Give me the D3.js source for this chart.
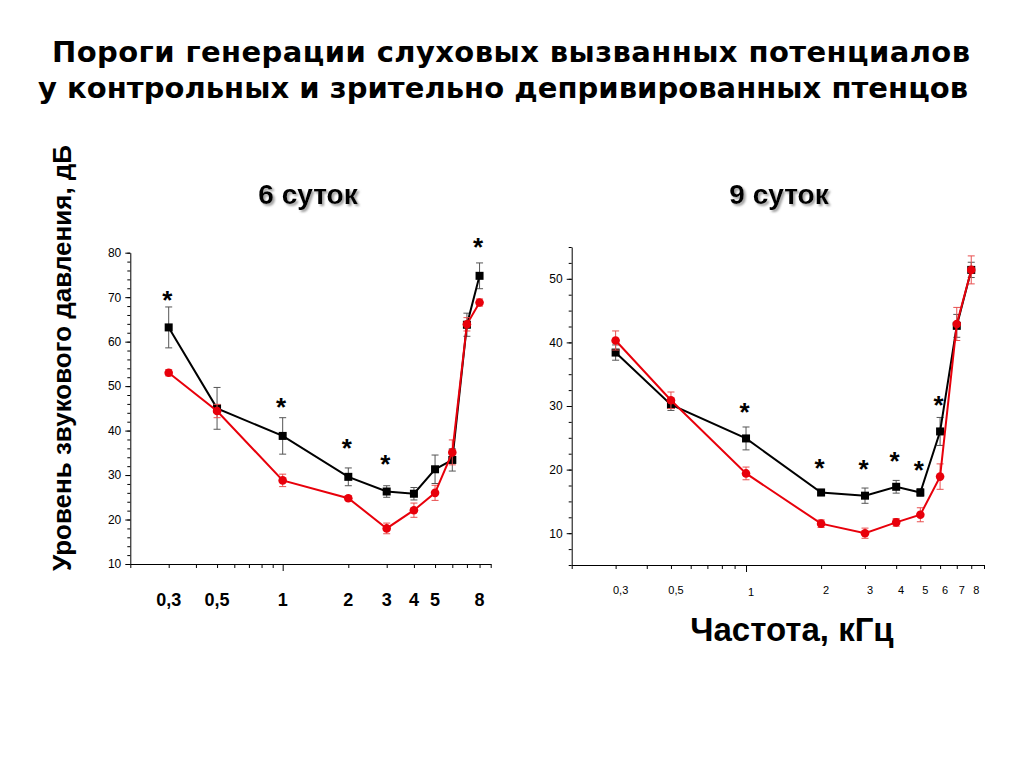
<!DOCTYPE html>
<html>
<head>
<meta charset="utf-8">
<script src="https://d3js.org/d3.v7.min.js"></script>
<style>
  body { margin: 0; background: #fff; }
  svg { font-family: "Liberation Sans", Arial, sans-serif; }
</style>
</head>
<body>
<script>
// Frequencies, kHz
var freqs = [0.3, 0.5, 1, 2, 3, 4, 5, 6, 7, 8];

// 6 days: black squares / red circles, mean and error
var d6Black    = [63.2, 45.0, 38.8, 29.6, 26.3, 25.8, 31.3, 33.4, 63.8, 74.8];
var d6BlackErr = [4.6, 4.7, 4.1, 2.0, 1.3, 1.4, 3.2, 2.5, 2.6, 2.9];
var d6Red      = [53.0, 44.4, 28.8, 24.8, 18.0, 22.1, 26.0, 35.1, 63.9, 68.8];
var d6RedErr   = [0.7, 1.5, 1.4, 0.5, 1.2, 1.6, 1.7, 2.8, 1.5, 0.8];
var d6StarF    = [0.3, 1, 2, 3, 8];
var d6StarY    = [70.5, 46.4, 37.2, 33.6, 82.5];
var d6Labels   = ["0,3", "0,5", "1", "2", "3", "4", "5", "8"];
var d6LabelF   = [0.3, 0.5, 1, 2, 3, 4, 5, 8];

// 9 days
var d9Black    = [38.4, 30.2, 24.9, 16.4, 15.9, 17.3, 16.4, 26.0, 42.6, 51.4];
var d9BlackErr = [1.2, 0.9, 1.8, 0.5, 1.2, 1.0, 0.6, 2.2, 1.8, 1.2];
var d9Red      = [40.3, 30.9, 19.4, 11.5, 10.0, 11.7, 12.9, 18.9, 42.9, 51.4];
var d9RedErr   = [1.5, 1.3, 1.0, 0.6, 0.8, 0.6, 1.1, 2.0, 2.6, 2.2];
var d9StarF    = [1, 2, 3, 4, 5, 6];
var d9StarY    = [29.9, 21.1, 20.85, 22.1, 20.75, 31.0];
var d9Labels   = ["0,3", "0,5", "1", "2", "3", "4", "5", "6", "7", "8"];
var d9LabelF   = [0.3, 0.5, 1, 2, 3, 4, 5, 6, 7, 8];

var logTicks = [0.2,0.3,0.4,0.5,0.6,0.7,0.8,0.9,1,2,3,4,5,6,7,8,9];

var svg = d3.select("body").append("svg")
    .attr("width", 1024).attr("height", 768);

var defs = svg.append("defs");
defs.append("filter").attr("id", "shadow")
    .attr("x", "-10%").attr("y", "-20%").attr("width", "130%").attr("height", "160%")
  .append("feDropShadow")
    .attr("dx", 2).attr("dy", 2).attr("stdDeviation", 1.2)
    .attr("flood-color", "#888").attr("flood-opacity", 0.8);

// ---- titles ----
var title = svg.append("text")
    .attr("text-anchor", "middle")
    .style("font-family", "'Comic Sans MS', 'DejaVu Sans', sans-serif")
    .style("font-weight", "bold")
    .style("font-size", "29px");
title.append("tspan").attr("x", 511).attr("y", 62).attr("textLength", 918)
    .text("Пороги генерации слуховых вызванных потенциалов");
title.append("tspan").attr("x", 503).attr("y", 98).attr("textLength", 930)
    .text("у контрольных и зрительно депривированных птенцов");

svg.append("text")
    .attr("transform", "translate(71,358) rotate(-90)")
    .attr("text-anchor", "middle")
    .style("font-weight", "bold").style("font-size", "26px")
    .text("Уровень звукового давления, дБ");

svg.append("text")
    .attr("x", 792).attr("y", 641).attr("text-anchor", "middle")
    .style("font-weight", "bold").style("font-size", "33px")
    .text("Частота, кГц");

// ---- one panel ----
function panel(o) {
  var x = d3.scaleLog().domain([0.2, 9]).range(o.xr);
  var y = d3.scaleLinear().domain(o.yd).range(o.yr);
  var g = svg.append("g");

  g.append("text")
      .attr("x", o.titleX).attr("y", 204).attr("text-anchor", "middle")
      .attr("filter", "url(#shadow)")
      .style("font-weight", "bold").style("font-size", "28px")
      .text(o.title);

  // y axis: minor then major
  g.append("g").attr("transform", `translate(${o.xr[0]},0)`)
      .call(d3.axisLeft(y).tickValues(d3.range(o.yd[0], o.yd[1] + 0.01, o.yMinor)).tickSize(3).tickFormat(""))
      .call(a => a.select(".domain").remove());
  g.append("g").attr("transform", `translate(${o.xr[0]},0)`)
      .call(d3.axisLeft(y).tickValues(o.yMajor).tickSize(5).tickSizeOuter(0).tickPadding(4))
      .call(a => a.selectAll("text").style("font-size", "12px").style("font-family", "'Liberation Sans', Arial, sans-serif"));

  // x axis
  g.append("g").attr("transform", `translate(0,${o.yr[0]})`)
      .call(d3.axisBottom(x).tickValues(logTicks).tickSize(4).tickSizeOuter(0).tickFormat(""))
      .call(a => a.selectAll(".tick line").attr("y2", d => d === 1 ? 7 : 4));

  // x labels
  g.append("g").selectAll("text")
      .data(o.labelF)
      .join("text")
      .attr("x", (d, i) => x(d) + o.labelDx)
      .attr("y", (d, i) => o.labelY + (o.labelDrop && d === 1 ? 2 : 0))
      .attr("text-anchor", "middle")
      .style("font-weight", o.labelBold ? "bold" : "normal")
      .style("font-size", o.labelSize)
      .text((d, i) => o.labels[i]);

  function series(vals, errs, color, errColor, shape) {
    var pts = freqs.map((f, i) => ({f: f, v: vals[i], e: errs[i]}));
    var eb = g.append("g").attr("stroke", errColor).attr("stroke-width", 1);
    eb.selectAll("line.v").data(pts).join("line").attr("class", "v")
        .attr("x1", d => x(d.f)).attr("x2", d => x(d.f))
        .attr("y1", d => y(d.v - d.e)).attr("y2", d => y(d.v + d.e));
    eb.selectAll("line.t").data(pts).join("line").attr("class", "t")
        .attr("x1", d => x(d.f) - 3.5).attr("x2", d => x(d.f) + 3.5)
        .attr("y1", d => y(d.v + d.e)).attr("y2", d => y(d.v + d.e));
    eb.selectAll("line.b").data(pts).join("line").attr("class", "b")
        .attr("x1", d => x(d.f) - 3.5).attr("x2", d => x(d.f) + 3.5)
        .attr("y1", d => y(d.v - d.e)).attr("y2", d => y(d.v - d.e));
    g.append("path").datum(pts)
        .attr("fill", "none").attr("stroke", color).attr("stroke-width", 2)
        .attr("d", d3.line().x(d => x(d.f)).y(d => y(d.v)));
    if (shape === "square") {
      g.append("g").selectAll("rect").data(pts).join("rect")
          .attr("x", d => x(d.f) - 4).attr("y", d => y(d.v) - 4)
          .attr("width", 8).attr("height", 8).attr("fill", color);
    } else {
      g.append("g").selectAll("circle").data(pts).join("circle")
          .attr("cx", d => x(d.f)).attr("cy", d => y(d.v))
          .attr("r", 4.3).attr("fill", color);
    }
  }
  series(o.black, o.blackErr, "#000", "#555", "square");
  series(o.red, o.redErr, "#e8000b", "#e85050", "circle");

  // asterisks
  g.append("g").selectAll("text")
      .data(o.starF)
      .join("text")
      .attr("x", d => x(d) - 1.5)
      .attr("y", (d, i) => y(o.starY[i]) + 14)
      .attr("text-anchor", "middle")
      .style("font-weight", "bold").style("font-size", "26px")
      .text("*");
}

panel({
  title: "6 суток", titleX: 308,
  xr: [130.3, 490.7], yd: [10, 80], yr: [564, 252.7],
  yMajor: d3.range(10, 81, 10), yMinor: 2,
  black: d6Black, blackErr: d6BlackErr, red: d6Red, redErr: d6RedErr,
  starF: d6StarF, starY: d6StarY,
  labels: d6Labels, labelF: d6LabelF, labelDx: 0, labelY: 606,
  labelBold: true, labelSize: "18px", labelDrop: false
});

panel({
  title: "9 суток", titleX: 779,
  xr: [571.7, 984], yd: [5, 55], yr: [565, 247],
  yMajor: d3.range(10, 51, 10), yMinor: 2.5,
  black: d9Black, blackErr: d9BlackErr, red: d9Red, redErr: d9RedErr,
  starF: d9StarF, starY: d9StarY,
  labels: d9Labels, labelF: d9LabelF, labelDx: 5, labelY: 594,
  labelBold: false, labelSize: "11px", labelDrop: true
});
</script>
</body>
</html>
